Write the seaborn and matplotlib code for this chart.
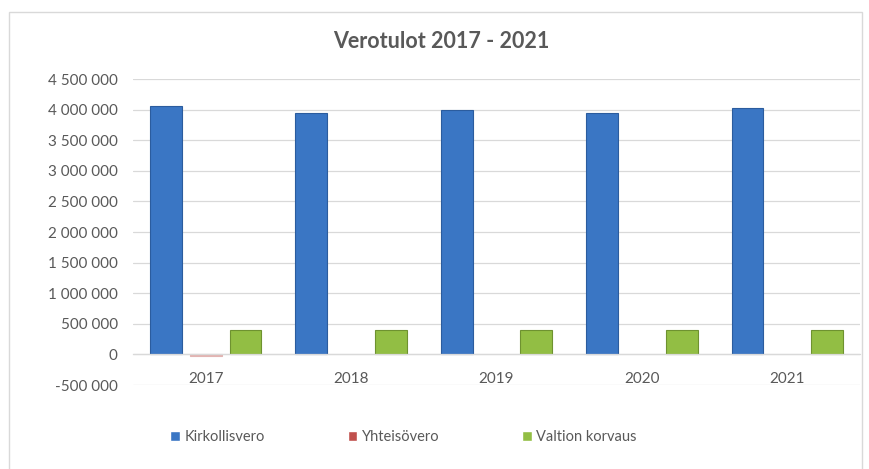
import matplotlib
matplotlib.use("Agg")
import matplotlib.pyplot as plt
import matplotlib.ticker as mticker
from matplotlib.patches import Rectangle
import seaborn as sns
import pandas as pd

years = ["2017", "2018", "2019", "2020", "2021"]
series = ["Kirkollisvero", "Yhteisövero", "Valtion korvaus"]
kirkollisvero = [4055000, 3950000, 3995000, 3945000, 4025000]
yhteisovero = [-25000, 0, 0, 0, 0]
valtion_korvaus = [405000, 403000, 393000, 393000, 405000]
yticks = list(range(-500000, 4500001, 500000))

colors = ["#3A76C4", "#C0504D", "#92BE44"]
edges = ["#2B5C9E", "#D9A3A1", "#6E9230"]

df = pd.DataFrame({
    "year": years * 3,
    "series": [series[0]] * 5 + [series[1]] * 5 + [series[2]] * 5,
    "value": kirkollisvero + yhteisovero + valtion_korvaus,
})

sns.set_theme(style="white")
plt.rcParams["font.family"] = ["Lato", "DejaVu Sans"]

fig = plt.figure(figsize=(8.69, 4.69), dpi=100)
ax = fig.add_axes([133 / 869, (469 - 385) / 469, (860 - 133) / 869, 306 / 469])

sns.barplot(data=df, x="year", y="value", hue="series", hue_order=series,
            order=years, palette=colors, width=0.82, gap=0.2, ax=ax,
            legend=True, errorbar=None, saturation=1)

for i, (cont, ec) in enumerate(zip(ax.containers, edges)):
    for bar in cont:
        if bar.get_height() == 0:
            bar.set_visible(False)
            continue
        if i == 1:
            bar.set_facecolor("#E2B4B2")
            bar.set_edgecolor("#E2B4B2")
        else:
            bar.set_edgecolor(ec)
        bar.set_linewidth(0.8)

ax.set_ylim(-500000, 4500000)
ax.set_xlim(-0.5, 4.5)
ax.set_yticks(yticks)
ax.yaxis.set_major_formatter(mticker.FuncFormatter(
    lambda v, p: f"{int(v):,}".replace(",", " ")))
ax.grid(axis="y", color="#D9D9D9", linewidth=0.9)
ax.set_axisbelow(True)
for s in ["top", "right", "left"]:
    ax.spines[s].set_visible(False)
ax.spines["bottom"].set_position(("data", 0))
ax.spines["bottom"].set_color("#D9D9D9")
ax.spines["bottom"].set_linewidth(0.9)
ax.set_xlabel("")
ax.set_ylabel("")
ax.tick_params(axis="x", length=0, pad=13, labelsize=11, labelcolor="#595959")
ax.tick_params(axis="y", length=0, pad=11, labelsize=11, labelcolor="#595959")

handles, labels = ax.get_legend_handles_labels()
ax.legend_.remove()
fig.legend(handles, labels, loc="center left", bbox_to_anchor=(163 / 869, 0.068),
           ncol=3, frameon=False, fontsize=10.5, handlelength=0.65,
           handleheight=0.65, handletextpad=0.3, columnspacing=5.7,
           borderpad=0, labelcolor="#595959")

fig.text(441 / 869, (469 - 42) / 469, "Verotulot 2017 - 2021", ha="center",
         va="center", fontsize=15.5, fontweight="bold", color="#595959")

fig.patches.append(Rectangle((9 / 869, -0.01), 853 / 869, (469 - 12) / 469 + 0.01,
                             transform=fig.transFigure, fill=False,
                             edgecolor="#D9D9D9", linewidth=1.0))

fig.savefig("out.png", dpi=100, facecolor="white")
